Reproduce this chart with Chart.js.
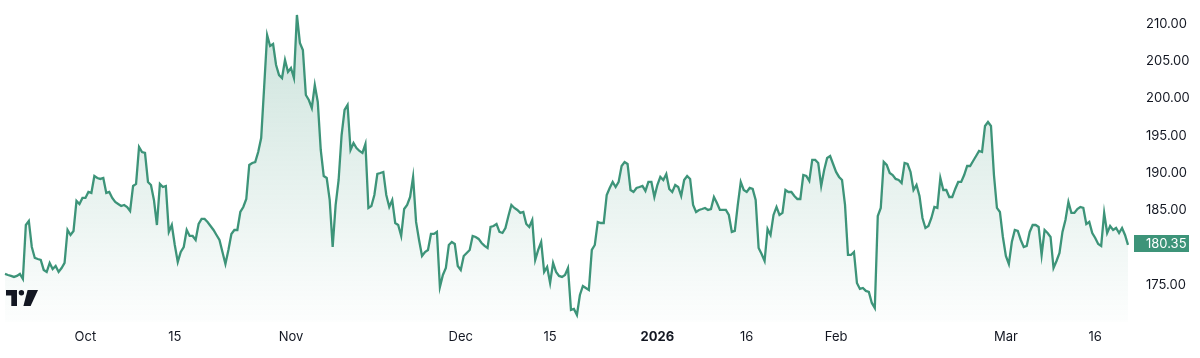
<!DOCTYPE html>
<html>
<head>
<meta charset="utf-8">
<script src="https://cdn.jsdelivr.net/npm/chart.js@4.4.1/dist/chart.umd.min.js"></script>
<style>
html,body{margin:0;padding:0;background:#ffffff;}
#wrap{width:1200px;height:358px;position:relative;overflow:hidden;}
</style>
</head>
<body>
<div id="wrap"><canvas id="c" width="1200" height="358"></canvas></div>
<script>
// ---- data ----
const startDate = '2025-09-18';
const endDate = '2026-03-19';
const holidays = ['2025-11-27', '2025-12-25', '2026-01-01', '2026-01-19', '2026-02-16'];
const sessions = ['10:00', '12:30', '15:00'];
const tickLabels = {
  '2025-10-01': 'Oct', '2025-10-15': '15', '2025-11-03': 'Nov',
  '2025-12-01': 'Dec', '2025-12-15': '15', '2026-01-02': '2026',
  '2026-01-16': '16', '2026-02-02': 'Feb', '2026-03-02': 'Mar', '2026-03-16': '16'
};
const yTickValues = [175, 180, 185, 190, 195, 200, 205, 210];
const prices = [
176.45,176.31,176.18,176.05,176.18,176.45,175.78,183.02,183.56,180.07,
178.60,178.46,178.33,176.99,176.72,177.93,177.12,177.52,176.72,177.25,
177.93,182.35,181.68,182.22,186.25,185.84,186.65,186.65,187.45,187.32,
189.60,189.33,189.20,189.33,187.32,187.45,186.65,186.11,185.84,185.57,
185.71,185.44,184.90,188.26,188.53,193.49,192.82,192.69,188.80,188.39,
186.38,183.02,188.53,188.12,188.26,182.09,183.02,180.34,178.06,179.40,
180.07,182.35,181.55,181.55,181.01,183.16,183.83,183.83,183.43,182.89,
182.35,181.68,181.01,179.40,177.79,179.67,181.82,182.35,182.35,184.77,
185.44,186.51,191.08,191.35,191.48,192.82,194.70,201.54,208.52,207.05,
207.32,204.50,203.15,202.75,205.17,203.56,204.09,202.75,211.21,207.45,
206.51,200.47,199.80,198.73,201.81,199.53,193.09,189.60,189.33,186.38,
180.07,185.71,189.06,195.10,198.46,199.13,193.09,194.03,193.36,192.96,
192.69,193.90,185.31,185.57,187.05,189.87,190.00,190.14,187.05,185.44,
186.38,183.29,183.02,181.55,185.17,185.71,186.78,189.47,183.43,181.01,
178.86,179.40,179.67,181.82,181.82,182.09,174.70,176.31,177.25,180.34,
180.74,180.48,177.52,176.99,178.86,179.27,179.67,181.55,181.41,181.15,
180.61,180.21,179.94,182.76,182.89,183.16,182.09,181.95,182.62,184.23,
185.71,185.31,185.04,184.64,184.77,183.16,182.76,183.70,178.33,179.67,
180.74,176.72,177.39,175.24,177.93,176.72,176.18,176.05,176.31,177.25,
171.62,171.75,170.95,173.63,174.84,174.57,174.30,179.67,180.34,183.43,
183.29,183.29,187.05,187.99,188.80,188.12,188.80,190.94,191.48,191.21,
187.72,187.45,187.99,188.12,188.26,187.59,188.80,188.80,186.78,188.39,
189.47,189.06,189.87,187.86,187.45,188.39,188.12,186.92,189.06,189.60,
189.20,185.71,184.77,185.04,185.17,185.31,185.04,185.17,186.78,185.98,
185.04,185.04,185.04,184.37,182.09,182.22,185.71,188.80,187.72,187.45,
187.99,187.86,186.38,179.94,179.13,178.19,182.49,181.68,184.37,185.44,
184.37,184.64,187.72,187.45,187.45,186.92,186.51,186.51,189.73,189.60,
188.93,191.75,191.75,191.35,188.26,190.41,192.02,192.28,191.21,190.14,
189.47,189.06,185.71,179.00,179.00,179.40,175.24,174.44,174.57,174.17,
174.03,172.56,171.89,184.23,185.31,191.48,191.08,190.00,189.73,189.20,
189.06,188.66,191.35,191.21,190.14,187.72,188.39,186.92,183.96,182.62,
182.89,183.96,185.44,185.31,189.33,187.72,187.72,186.78,186.78,187.86,
188.80,188.80,189.73,190.94,190.94,191.61,192.28,192.96,192.82,196.31,
196.85,196.31,189.73,185.31,184.77,181.41,178.86,177.79,180.74,182.35,
182.22,181.01,180.07,180.21,182.09,183.02,183.02,182.76,179.00,182.35,
181.95,181.41,177.25,178.19,179.27,182.09,183.70,186.11,184.64,184.64,
185.17,185.44,185.31,183.16,183.43,181.95,181.28,180.48,180.21,184.64,
181.95,182.89,182.35,182.62,181.95,182.62,181.68,180.35
];

// ---- categories: trading sessions ----
function tradingDays(from, to, skip) {
  const out = [];
  const d = new Date(from + 'T00:00:00Z');
  const end = new Date(to + 'T00:00:00Z');
  while (d <= end) {
    const wd = d.getUTCDay();
    const s = d.toISOString().slice(0, 10);
    if (wd !== 0 && wd !== 6 && !skip.includes(s)) out.push(s);
    d.setUTCDate(d.getUTCDate() + 1);
  }
  return out;
}
const days = tradingDays(startDate, endDate, holidays);
const labels = [];
days.forEach(d => sessions.forEach(s => labels.push(d + ' ' + s)));

// ---- styles ----
const FONT = 'Inter, "Noto Sans", Roboto, sans-serif';
const LINE = '#3d9479';
const TEXT = '#131722';

const overlay = {
  id: 'overlay',
  afterDraw(chart) {
    const c = chart.ctx;
    const ys = chart.scales.y;
    const last = prices[prices.length - 1];
    const py = ys.getPixelForValue(last);
    // last value label
    c.save();
    c.fillStyle = LINE;
    c.fillRect(1134, Math.round(py - 10), 55, 17);
    c.fillStyle = '#ffffff';
    c.font = '13px ' + FONT;
    c.textAlign = 'left';
    c.textBaseline = 'middle';
    c.fillText(last.toFixed(2), ys.left + 18, py - 1);
    // logo
    c.fillStyle = '#131722';
    c.fillRect(6, 290, 11, 5.5);
    c.fillRect(11.3, 290, 5.7, 16);
    c.beginPath();
    c.arc(21.4, 292.8, 2.7, 0, Math.PI * 2);
    c.fill();
    c.beginPath();
    c.moveTo(27.6, 290);
    c.lineTo(38, 290);
    c.lineTo(30.6, 306);
    c.lineTo(23.4, 306);
    c.closePath();
    c.fill();
    c.restore();
  }
};

function noPad(s) {
  s.paddingTop = 0; s.paddingBottom = 0; s.paddingLeft = 0; s.paddingRight = 0;
}

new Chart(document.getElementById('c'), {
  type: 'line',
  data: {
    labels: labels,
    datasets: [{
      data: prices,
      borderColor: LINE,
      borderWidth: 2.3,
      pointRadius: 0,
      pointHoverRadius: 0,
      tension: 0,
      fill: 'start',
      backgroundColor: (ctx) => {
        const ch = ctx.chart;
        const area = ch.chartArea;
        if (!area) return 'rgba(61,148,121,0.12)';
        const g = ch.ctx.createLinearGradient(0, area.top, 0, area.bottom);
        g.addColorStop(0, 'rgba(61,148,121,0.27)');
        g.addColorStop(1, 'rgba(61,148,121,0.01)');
        return g;
      }
    }]
  },
  options: {
    responsive: false,
    animation: false,
    devicePixelRatio: 1,
    layout: { padding: { left: 5, top: 5, right: 0, bottom: 0 } },
    plugins: { legend: { display: false }, tooltip: { enabled: false } },
    scales: {
      x: {
        type: 'category',
        offset: false,
        grid: { display: false, drawTicks: false },
        border: { display: false },
        afterFit: (s) => { s.height = 36; noPad(s); },
        ticks: {
          autoSkip: false,
          maxRotation: 0,
          minRotation: 0,
          padding: 7,
          color: TEXT,
          font: (ctx) => ({
            family: FONT,
            size: 13,
            weight: (ctx.tick && ctx.tick.label === '2026') ? '700' : '400'
          }),
          callback: function (value) {
            const lab = this.getLabelForValue(value);
            const parts = lab.split(' ');
            if (parts[1] === sessions[0] && tickLabels[parts[0]]) return tickLabels[parts[0]];
            return null;
          }
        }
      },
      y: {
        position: 'right',
        min: 170,
        max: 212.55,
        grid: { display: false, drawTicks: false },
        border: { display: false },
        afterFit: (s) => { s.width = 72; noPad(s); },
        afterBuildTicks: (s) => { s.ticks = yTickValues.map(v => ({ value: v })); },
        ticks: {
          padding: 18,
          color: TEXT,
          font: { family: FONT, size: 13 },
          callback: (v) => Number(v).toFixed(2)
        }
      }
    }
  },
  plugins: [overlay]
});
</script>
</body>
</html>
